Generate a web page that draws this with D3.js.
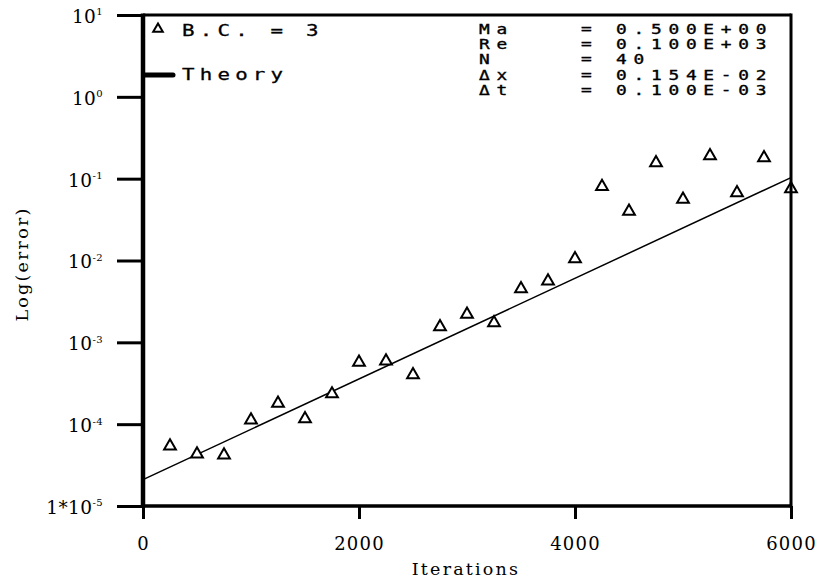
<!DOCTYPE html>
<html>
<head>
<meta charset="utf-8">
<script src="https://cdn.jsdelivr.net/npm/d3@7/dist/d3.min.js"></script>
<style>
  html, body { margin: 0; padding: 0; background: #fff; }
  svg { display: block; }
</style>
</head>
<body>
<svg id="chart" width="820" height="583"></svg>
<script>
// ---- data ----
const iterations = [250, 500, 750, 1000, 1250, 1500, 1750, 2000, 2250, 2500, 2750, 3000,
                    3250, 3500, 3750, 4000, 4250, 4500, 4750, 5000, 5250, 5500, 5750, 6000];
const errors = [5.4e-5, 4.3e-5, 4.2e-5, 1.12e-4, 1.8e-4, 1.16e-4, 2.34e-4, 5.7e-4, 5.9e-4, 4.0e-4,
                1.55e-3, 2.2e-3, 1.73e-3, 4.5e-3, 5.6e-3, 1.05e-2, 8.0e-2, 4.0e-2, 1.56e-1, 5.6e-2,
                1.9e-1, 6.7e-2, 1.8e-1, 7.5e-2];
const theoryIter = [0, 6000];
const theoryErr = [2.1e-5, 0.103];
const xTicks = [0, 2000, 4000, 6000];
const yTicks = [1e-5, 1e-4, 1e-3, 1e-2, 1e-1, 1, 10];
const yTickBase = ["1*10", "10", "10", "10", "10", "10", "10"];
const yTickExp = ["-5", "-4", "-3", "-2", "-1", "0", "1"];
const paramNames = ["Ma", "Re", "N", "\u0394x", "\u0394t"];
const paramValues = ["0.500E+00", "0.100E+03", "40", "0.154E-02", "0.100E-03"];
const legendLabels = ["B.C. = 3", "Theory"];

// ---- layout ----
const L = 143, R = 791, T = 15, B = 506;
const svg = d3.select("#chart");
const x = d3.scaleLinear().domain([0, 6000]).range([L, R]);
const y = d3.scaleLog().domain([1e-5, 10]).range([B, T]);

const serif = "'DejaVu Serif', 'Liberation Serif', serif";
const mono = "'DejaVu Sans Mono', 'Liberation Mono', monospace";

// theory line
svg.append("path")
  .datum(theoryIter.map((v, i) => [v, theoryErr[i]]))
  .attr("fill", "none").attr("stroke", "#000").attr("stroke-width", 1.5)
  .attr("d", d3.line().x(d => x(d[0])).y(d => y(d[1])));

// data triangles
const tri = d3.symbol().type(d3.symbolTriangle).size(60);
svg.append("g").selectAll("path")
  .data(iterations.map((v, i) => [v, errors[i]]))
  .join("path")
  .attr("d", tri)
  .attr("transform", d => `translate(${x(d[0])},${y(d[1])})`)
  .attr("fill", "#fff").attr("stroke", "#000").attr("stroke-width", 2);

// y axis
const yAxis = svg.append("g").attr("transform", `translate(${L},0)`)
  .call(d3.axisLeft(y).tickValues(yTicks).tickSize(26).tickPadding(14).tickFormat(() => ""));
yAxis.select(".domain").remove();
yAxis.selectAll(".tick line").attr("stroke", "#000").attr("stroke-width", 3);
yAxis.selectAll(".tick text").each(function(d, i) {
  const t = d3.select(this);
  t.text(null)
   .attr("x", -40).attr("dy", "0.4em")
   .attr("font-family", serif).attr("font-size", 18.5).attr("fill", "#000")
   .attr("letter-spacing", 0.4)
   .attr("text-anchor", "end");
  t.append("tspan").text(yTickBase[i]);
  t.append("tspan").attr("dy", -7.5).attr("font-size", 10).text(yTickExp[i]);
});

// x axis
const xAxis = svg.append("g").attr("transform", `translate(0,${B})`)
  .call(d3.axisBottom(x).tickValues(xTicks).tickSize(13).tickPadding(18).tickFormat(d3.format("d")));
xAxis.select(".domain").remove();
xAxis.selectAll(".tick line").attr("stroke", "#000").attr("stroke-width", 3);
xAxis.selectAll(".tick text")
  .attr("font-family", serif).attr("font-size", 18).attr("fill", "#000")
  .attr("letter-spacing", 1.2);

// frame
svg.append("line").attr("x1", L).attr("x2", R).attr("y1", T).attr("y2", T)
  .attr("stroke", "#000").attr("stroke-width", 3);
svg.append("line").attr("x1", L).attr("x2", R).attr("y1", B).attr("y2", B)
  .attr("stroke", "#000").attr("stroke-width", 3.5);
svg.append("line").attr("x1", L).attr("x2", L).attr("y1", T - 1.5).attr("y2", B + 1.5)
  .attr("stroke", "#000").attr("stroke-width", 4.5);
svg.append("line").attr("x1", R).attr("x2", R).attr("y1", T - 1.5).attr("y2", B + 1.5)
  .attr("stroke", "#000").attr("stroke-width", 3);

// axis titles
svg.append("text").attr("x", 466).attr("y", 575).attr("text-anchor", "middle")
  .attr("font-family", serif).attr("font-size", 17.5).attr("letter-spacing", 2.2)
  .attr("fill", "#000").text("Iterations");
svg.append("text").attr("transform", "translate(28,264) rotate(-90)").attr("text-anchor", "middle")
  .attr("font-family", serif).attr("font-size", 17.5).attr("letter-spacing", 2.2)
  .attr("fill", "#000").text("Log(error)");

// legend
svg.append("path").attr("d", d3.symbol().type(d3.symbolTriangle).size(40)())
  .attr("transform", "translate(158,29)")
  .attr("fill", "#fff").attr("stroke", "#000").attr("stroke-width", 2);
svg.append("line").attr("x1", 145).attr("x2", 173).attr("y1", 75).attr("y2", 75)
  .attr("stroke", "#000").attr("stroke-width", 5).attr("stroke-linecap", "round");

const sx = 1.3;
legendLabels.forEach((d, i) => {
  svg.append("text")
    .attr("transform", `translate(182,${i === 0 ? 36 : 80}) scale(${sx},1)`)
    .attr("font-family", mono).attr("font-size", 16).attr("letter-spacing", 4)
    .attr("fill", "#000").attr("stroke", "#000").attr("stroke-width", 0.3)
    .attr("xml:space", "preserve").style("white-space", "pre")
    .text(d);
});

// parameter block: one text per column, one tspan per row
const psx = 1.35;
const cols = [
  { x0: 479, vals: paramNames },
  { x0: 581, vals: paramNames.map(() => "=") },
  { x0: 616, vals: paramValues }
];
cols.forEach(c => {
  const t = svg.append("text")
    .attr("transform", `translate(${c.x0},33.5) scale(${psx},1)`)
    .attr("font-family", mono).attr("font-size", 13.2).attr("letter-spacing", 5)
    .attr("fill", "#000").attr("stroke", "#000").attr("stroke-width", 0.35);
  c.vals.forEach((v, i) => {
    t.append("tspan").attr("x", 0).attr("y", i * 15.4).text(v);
  });
});
</script>
</body>
</html>
